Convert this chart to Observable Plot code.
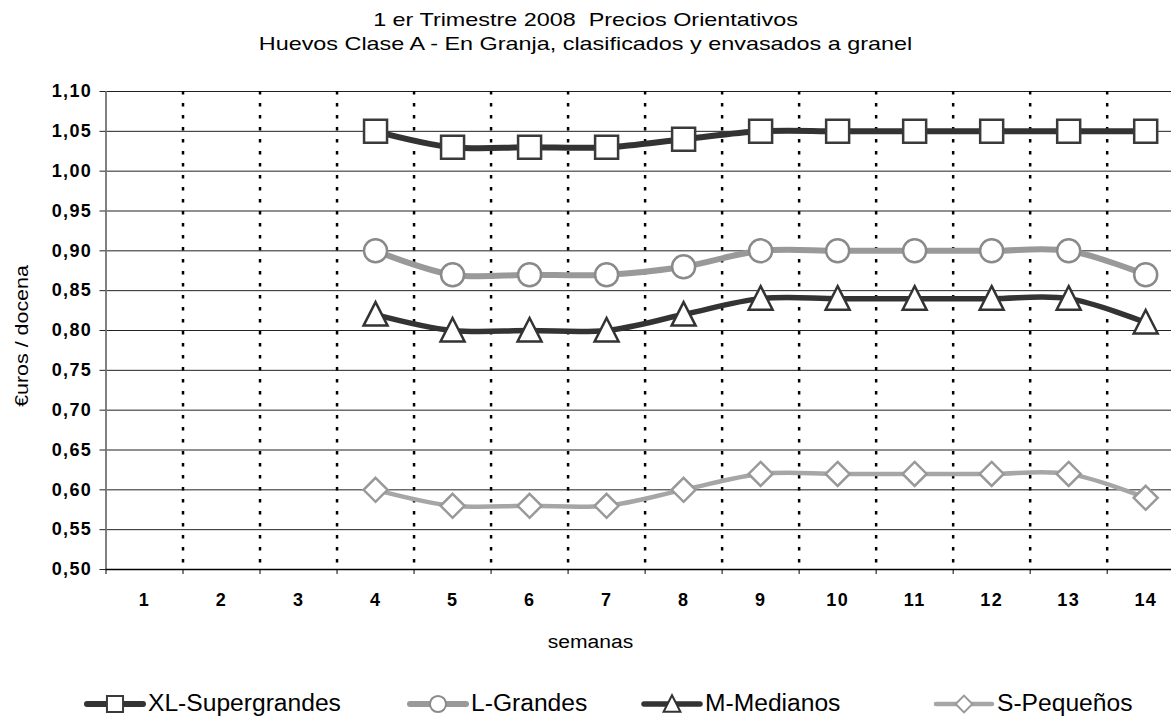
<!DOCTYPE html>
<html>
<head>
<meta charset="utf-8">
<script src="https://cdn.jsdelivr.net/npm/d3@7"></script>
<script src="https://cdn.jsdelivr.net/npm/@observablehq/plot@0.6"></script>
<style>
  html, body { margin: 0; padding: 0; background: #fff; }
  #wrap { position: relative; width: 1171px; height: 718px; overflow: hidden; font-family: "Liberation Sans", Arial, sans-serif; }
  .t { position: absolute; white-space: nowrap; color: #000; }
  #chart { position: absolute; left: 0; top: 0; }
  .leg { position: absolute; top: 690px; display: flex; align-items: center; font-size: 23px; line-height: 26px; }
  .leg span { display: inline-block; transform: scaleX(1.07); transform-origin: left center; }
  .leg svg { display: block; }
</style>
</head>
<body>
<div id="wrap">
  <div id="chart"></div>
  <div class="t" id="t1" style="left:0;width:1171px;text-align:center;top:9px;font-size:19px;transform:scaleX(1.23);">1 er Trimestre 2008&nbsp; Precios Orientativos</div>
  <div class="t" id="t2" style="left:0;width:1171px;text-align:center;top:33px;font-size:19px;transform:scaleX(1.23);">Huevos Clase A - En Granja, clasificados y envasados a granel</div>
  <div class="t" id="xl" style="left:5px;width:1171px;text-align:center;top:632px;font-size:18px;transform:scaleX(1.17);">semanas</div>
  <div class="t" id="yl" style="left:22px;top:336px;font-size:18px;transform:translate(-50%,-50%) rotate(-90deg) scaleX(1.19);">€uros / docena</div>
  <div id="legend"></div>
</div>
<script>
// ---- data ----
const weeks = [1,2,3,4,5,6,7,8,9,10,11,12,13,14];
const dataWeeks = [4,5,6,7,8,9,10,11,12,13,14];
const xlValues = [1.05,1.03,1.03,1.03,1.04,1.05,1.05,1.05,1.05,1.05,1.05];
const lValues  = [0.90,0.87,0.87,0.87,0.88,0.90,0.90,0.90,0.90,0.90,0.87];
const mValues  = [0.82,0.80,0.80,0.80,0.82,0.84,0.84,0.84,0.84,0.84,0.81];
const sValues  = [0.60,0.58,0.58,0.58,0.60,0.62,0.62,0.62,0.62,0.62,0.59];
const seriesNames = ["XL-Supergrandes","L-Grandes","M-Medianos","S-Pequeños"];
const yTicks = [0.50,0.55,0.60,0.65,0.70,0.75,0.80,0.85,0.90,0.95,1.00,1.05,1.10];

// ---- symbols (Excel-like markers) ----
const symSquare = {draw(c){ const h=11.5; c.moveTo(-h,-h); c.lineTo(h,-h); c.lineTo(h,h); c.lineTo(-h,h); c.closePath(); }};
const symCircle = {draw(c){ c.moveTo(11.5,0); c.arc(0,0,11.5,0,2*Math.PI); }};
const symTri    = {draw(c){ c.moveTo(0,-12.5); c.lineTo(12,11); c.lineTo(-12,11); c.closePath(); }};
const symDiam   = {draw(c){ const h=12; c.moveTo(0,-h); c.lineTo(h,0); c.lineTo(0,h); c.lineTo(-h,0); c.closePath(); }};

const styles = [
  {values: xlValues, line: "#333333", lw: 6,   mark: symSquare, ms: "#3a3a3a"},
  {values: lValues,  line: "#999999", lw: 6,   mark: symCircle, ms: "#8a8a8a"},
  {values: mValues,  line: "#333333", lw: 5.5, mark: symTri,    ms: "#333333"},
  {values: sValues,  line: "#a6a6a6", lw: 4.5, mark: symDiam,   ms: "#999999"}
];

const rows = styles.map((s, i) => dataWeeks.map((w, j) => ({week: w, value: s.values[j], serie: seriesNames[i]})));

const boundaries = weeks.slice(0, -1).map(w => w + 0.5);
const tickBounds = [0.5, ...boundaries];
const fmt = v => d3.format(".2f")(v).replace(".", ",");

const marks = [
  Plot.ruleY(yTicks.filter(v => v > 0.5), {stroke: "#222", strokeWidth: 1}),
  Plot.ruleX(boundaries, {stroke: "#000", strokeWidth: 2.5, strokeDasharray: "3.5,8.5"}),
  Plot.ruleX([0.5], {stroke: "#808080", strokeWidth: 2}),
  Plot.ruleY([0.5], {stroke: "#000", strokeWidth: 1.5}),
  Plot.axisY(yTicks, {tickSize: 6, tickPadding: 8, tickFormat: fmt, stroke: "#222", label: null}),
  Plot.axisX(weeks, {tickSize: 0, tickPadding: 24, tickFormat: d => String(d), label: null}),
  Plot.axisX(tickBounds, {tickSize: 5, tickFormat: () => "", stroke: "#000", label: null})
];
styles.forEach((s, i) => {
  marks.push(Plot.line(rows[i], {x: "week", y: "value", stroke: s.line, strokeWidth: s.lw, curve: "catmull-rom"}));
});
styles.forEach((s, i) => {
  marks.push(Plot.dot(rows[i], {x: "week", y: "value", symbol: s.mark, r: 10, fill: "white", stroke: s.ms, strokeWidth: 2.5}));
});

const chart = Plot.plot({
  width: 1171,
  height: 660,
  marginTop: 91,
  marginBottom: 91,
  marginLeft: 105.5,
  marginRight: 0,
  style: {fontFamily: "'Liberation Sans', Arial, sans-serif", fontSize: "18px", fontWeight: "bold", letterSpacing: "1.3px", color: "#000", background: "transparent", overflow: "visible"},
  x: {type: "linear", domain: [0.5, 14.5], range: [105.5, 1183.7], label: null},
  y: {domain: [0.5, 1.1], range: [569, 91], label: null},
  marks
});
document.getElementById("chart").appendChild(chart);

// ---- legend ----
const legendPos = [84, 407, 641, 933];
const legend = document.getElementById("legend");
styles.forEach((s, i) => {
  const item = document.createElement("div");
  item.className = "leg";
  item.style.left = legendPos[i] + "px";
  const ns = "http://www.w3.org/2000/svg";
  const svg = document.createElementNS(ns, "svg");
  svg.setAttribute("width", 62); svg.setAttribute("height", 26);
  const ln = document.createElementNS(ns, "line");
  ln.setAttribute("x1", 3); ln.setAttribute("x2", 59); ln.setAttribute("y1", 14); ln.setAttribute("y2", 14);
  ln.setAttribute("stroke", s.line); ln.setAttribute("stroke-width", s.lw); ln.setAttribute("stroke-linecap", "round");
  svg.appendChild(ln);
  const p = document.createElementNS(ns, "path");
  const path = d3.path();
  const k = 0.7;
  const ctx = {
    moveTo: (x,y) => path.moveTo(x*k, y*k), lineTo: (x,y) => path.lineTo(x*k, y*k),
    arc: (x,y,r,a0,a1) => path.arc(x*k,y*k,r*k,a0,a1), closePath: () => path.closePath()
  };
  s.mark.draw(ctx);
  p.setAttribute("d", path.toString());
  p.setAttribute("transform", "translate(31,14)");
  p.setAttribute("fill", "white"); p.setAttribute("stroke", s.ms); p.setAttribute("stroke-width", 2);
  svg.appendChild(p);
  item.appendChild(svg);
  const sp = document.createElement("span");
  sp.textContent = seriesNames[i];
  sp.style.marginLeft = "2px";
  item.appendChild(sp);
  legend.appendChild(item);
});
</script>
</body>
</html>
